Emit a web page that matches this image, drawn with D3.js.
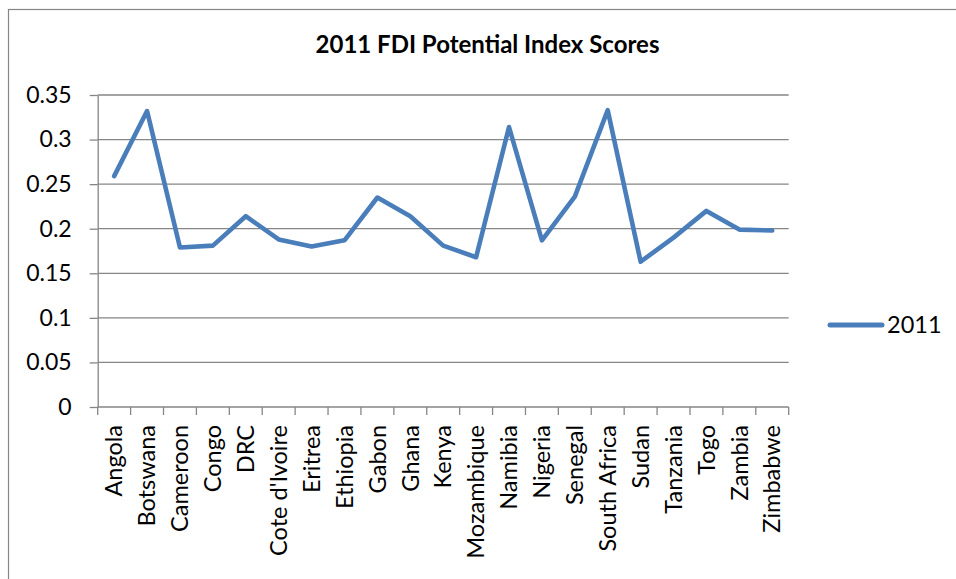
<!DOCTYPE html>
<html>
<head>
<meta charset="utf-8">
<script src="https://cdn.jsdelivr.net/npm/d3@7"></script>
<style>
  body { margin: 0; background: #fff; }
  svg { display: block; font-family: Lato, "Open Sans", sans-serif; }
</style>
</head>
<body>
<div id="chart"></div>
<script>
var countries = ["Angola", "Botswana", "Cameroon", "Congo", "DRC", "Cote d'Ivoire", "Eritrea",
                 "Ethiopia", "Gabon", "Ghana", "Kenya", "Mozambique", "Namibia", "Nigeria",
                 "Senegal", "South Africa", "Sudan", "Tanzania", "Togo", "Zambia", "Zimbabwe"];
var scores2011 = [0.259, 0.332, 0.179, 0.181, 0.214, 0.188, 0.180,
                  0.187, 0.235, 0.214, 0.181, 0.168, 0.314, 0.187,
                  0.236, 0.333, 0.163, 0.190, 0.220, 0.199, 0.198];
var yTicks = [0, 0.05, 0.1, 0.15, 0.2, 0.25, 0.3, 0.35];
var seriesName = "2011";
var title = "2011 FDI Potential Index Scores";

function LineChart() {
    var w = 956, h = 579;
    var left = 97.7, right = 788.7, top = 95, bottom = 407;
    var blue = "#4a7ebb";
    var grid = "#868686";

    var svg = d3.select("#chart")
                .append("svg")
                .attr("width", w)
                .attr("height", h);

    // chart area border
    svg.append("rect")
        .attr("x", 8.5).attr("y", 9.5)
        .attr("width", w).attr("height", h)
        .attr("fill", "none")
        .attr("stroke", "#868686")
        .attr("stroke-width", 1.2);

    svg.append("text")
        .attr("x", 487.5)
        .attr("y", 53)
        .attr("text-anchor", "middle")
        .attr("font-weight", "bold")
        .attr("font-size", 24)
        .text(title);

    var x = d3.scaleBand()
              .domain(countries)
              .range([left, right]);

    var y = d3.scaleLinear()
              .domain([0, 0.35])
              .range([bottom, top]);

    // gridlines
    svg.append("g")
        .selectAll("line")
        .data(yTicks)
        .enter()
        .append("line")
        .attr("x1", left).attr("x2", right)
        .attr("y1", function(d){ return y(d); })
        .attr("y2", function(d){ return y(d); })
        .attr("stroke", grid)
        .attr("stroke-width", 1.3);

    // y axis
    var yAxis = d3.axisLeft(y)
                  .tickValues(yTicks)
                  .tickSizeInner(8)
                  .tickSizeOuter(0)
                  .tickPadding(18)
                  .tickFormat(function(d){ return String(+d.toFixed(2)); });

    var gy = svg.append("g")
        .attr("transform", "translate(" + left + ",0)")
        .call(yAxis);
    gy.select(".domain").attr("stroke", grid).attr("stroke-width", 1.3);
    gy.selectAll(".tick line").attr("stroke", grid).attr("stroke-width", 1.3);
    gy.selectAll(".tick text")
        .attr("font-size", 23)
        .attr("font-family", "Lato, sans-serif")
        .attr("fill", "#000");

    // x axis tick marks at category boundaries
    var bounds = countries.map(function(c){ return x(c); }).concat([right]);
    svg.append("g")
        .selectAll("line")
        .data(bounds)
        .enter()
        .append("line")
        .attr("x1", function(d){ return d; })
        .attr("x2", function(d){ return d; })
        .attr("y1", bottom).attr("y2", bottom + 8)
        .attr("stroke", grid)
        .attr("stroke-width", 1.3);

    var xAxis = d3.axisBottom(x).tickSize(0).tickPadding(0);
    var gx = svg.append("g")
        .attr("transform", "translate(0," + bottom + ")")
        .call(xAxis);
    gx.select(".domain").remove();
    gx.selectAll(".tick text")
        .attr("font-size", 23.5)
        .attr("font-family", "Lato, sans-serif")
        .attr("fill", "#000")
        .attr("text-anchor", "end")
        .attr("transform", "rotate(-90)")
        .attr("x", -18)
        .attr("y", 0)
        .attr("dy", "0.35em");

    // the line
    var line = d3.line()
                 .x(function(d, i){ return x(countries[i]) + x.bandwidth() / 2; })
                 .y(function(d){ return y(d); });

    svg.append("path")
        .datum(scores2011)
        .attr("d", line)
        .attr("fill", "none")
        .attr("stroke", blue)
        .attr("stroke-width", 4.6)
        .attr("stroke-linejoin", "round")
        .attr("stroke-linecap", "round");

    // legend
    svg.append("line")
        .attr("x1", 830).attr("x2", 882)
        .attr("y1", 325).attr("y2", 325)
        .attr("stroke", blue)
        .attr("stroke-width", 5)
        .attr("stroke-linecap", "round");
    svg.append("text")
        .attr("x", 887)
        .attr("y", 325)
        .attr("dy", "0.35em")
        .attr("font-size", 23.5)
        .text(seriesName);
}

window.onload = LineChart;
</script>
</body>
</html>
